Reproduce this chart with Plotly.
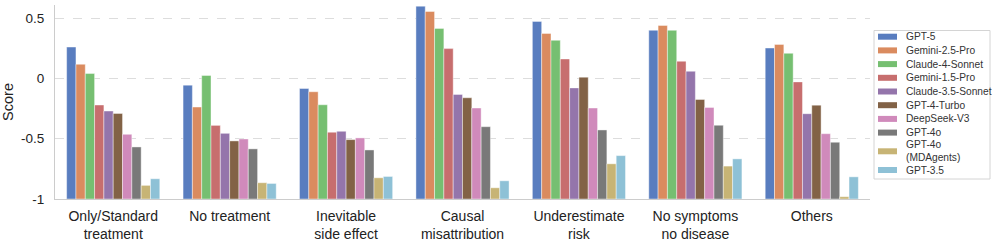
import plotly.graph_objects as go

categories = ["Only/Standard<br>treatment", "No treatment", "Inevitable<br>side effect",
              "Causal<br>misattribution", "Underestimate<br>risk", "No symptoms<br>no disease", "Others"]
models = ["GPT-5", "Gemini-2.5-Pro", "Claude-4-Sonnet", "Gemini-1.5-Pro", "Claude-3.5-Sonnet",
          "GPT-4-Turbo", "DeepSeek-V3", "GPT-4o", "GPT-4o<br>(MDAgents)", "GPT-3.5"]
colors = ["#597DBF", "#DA8B5F", "#76BF71", "#C76E6E", "#9475AB",
          "#826246", "#D08ABB", "#797979", "#C7B475", "#8EC1D6"]

gpt5 = [0.261, -0.055, -0.083, 0.600, 0.474, 0.400, 0.253]
gemini25 = [0.118, -0.237, -0.110, 0.556, 0.374, 0.440, 0.283]
claude4 = [0.041, 0.025, -0.218, 0.416, 0.317, 0.400, 0.209]
gemini15 = [-0.220, -0.389, -0.446, 0.248, 0.162, 0.143, -0.028]
claude35 = [-0.270, -0.455, -0.438, -0.132, -0.078, 0.060, -0.292]
gpt4turbo = [-0.290, -0.518, -0.507, -0.160, 0.011, -0.174, -0.221]
deepseek = [-0.463, -0.502, -0.493, -0.245, -0.245, -0.240, -0.458]
gpt4o = [-0.568, -0.584, -0.593, -0.400, -0.427, -0.388, -0.529]
gpt4o_mda = [-0.887, -0.865, -0.824, -0.907, -0.708, -0.727, -0.981]
gpt35 = [-0.832, -0.871, -0.813, -0.849, -0.640, -0.667, -0.816]

series = [gpt5, gemini25, claude4, gemini15, claude35, gpt4turbo, deepseek, gpt4o, gpt4o_mda, gpt35]

W, H = 996, 242
ML, MR, MT, MB = 55, 126, 5, 43
PW, PH = W - ML - MR, H - MT - MB

def px_x(p):
    return (p - ML) / PW

def px_y(p):
    return (H - MB - p) / PH

BASE = -1.0
fig = go.Figure()
for name, vals, col in zip(models, series, colors):
    fig.add_trace(go.Bar(
        x=categories, y=[v - BASE for v in vals], base=BASE, name=name,
        marker=dict(color=col, line=dict(color="rgba(255,255,255,0.7)", width=0.6)),
        showlegend=False,
    ))

# custom legend (layout only)
shapes = [dict(type="rect", xref="paper", yref="paper",
               x0=px_x(874), x1=px_x(990), y0=px_y(30.5), y1=px_y(179),
               line=dict(color="#d4d4d4", width=1), fillcolor="white", layer="above")]
annotations = []
cy = 36.7
for i, (name, col) in enumerate(zip(models, colors)):
    nlines = name.count("<br>") + 1
    extra = 10 * (nlines - 1)
    center = cy + extra / 2
    shapes.append(dict(type="rect", xref="paper", yref="paper",
                       x0=px_x(878), x1=px_x(897), y0=px_y(center - 3), y1=px_y(center + 3),
                       line=dict(width=0), fillcolor=col, layer="above"))
    annotations.append(dict(xref="paper", yref="paper", x=px_x(904), y=px_y(center),
                            xanchor="left", yanchor="middle", text=name, showarrow=False,
                            align="left", font=dict(size=10.2, color="#333")))
    cy += 13.7 + extra

fig.update_layout(
    width=W, height=H,
    margin=dict(l=ML, r=MR, t=MT, b=MB, autoexpand=False),
    barmode="group", bargap=0.2, bargroupgap=0,
    plot_bgcolor="white", paper_bgcolor="white",
    font=dict(family="Liberation Sans, Arial, sans-serif", size=14, color="#222"),
    showlegend=False,
    shapes=shapes, annotations=annotations,
)
fig.update_xaxes(showline=True, linecolor="#cccccc", linewidth=1.2, ticks="",
                 tickfont=dict(size=14), showgrid=False, range=[-0.5, 6.5],
                 automargin=False, ticklabelstandoff=4)
fig.update_yaxes(range=[-1, 0.61], tickvals=[-1, -0.5, 0, 0.5], ticktext=["-1", "-0.5", "0", "0.5"],
                 showline=True, linecolor="#cccccc", linewidth=1.2, ticks="",
                 showgrid=True, gridcolor="#dddddd", griddash="dash", gridwidth=1,
                 zeroline=False, title=dict(text="Score", font=dict(size=14.5), standoff=5),
                 tickfont=dict(size=13.5), automargin=False, ticklabelstandoff=7)

fig.write_html("out.html", config={"displayModeBar": False},
               post_script="document.body.style.margin='0';document.body.style.overflow='hidden';")
